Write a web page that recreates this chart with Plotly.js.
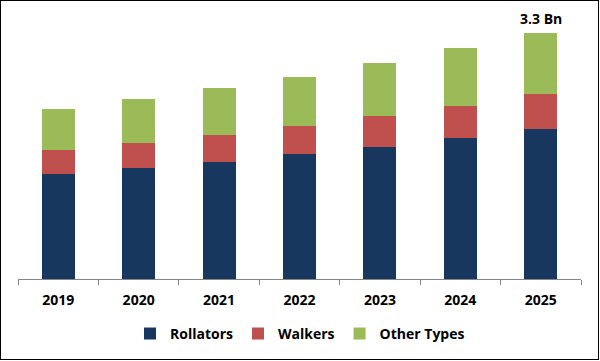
<!DOCTYPE html>
<html><head><meta charset="utf-8">
<script src="https://cdn.plot.ly/plotly-3.0.1.min.js"></script>
<style>
body{margin:0;padding:0;background:#fff;}
#wrap{position:relative;width:600px;height:361px;}
#chart{width:600px;height:361px;}
#frame{position:absolute;left:0;top:0;width:599px;height:360px;box-sizing:border-box;border:1px solid #000;pointer-events:none;}
</style>
</head><body>
<div id="wrap"><div id="chart"></div><div id="frame"></div></div>
<script>
const years = ['2019','2020','2021','2022','2023','2024','2025'];
const rollators = [1.41, 1.49, 1.57, 1.68, 1.77, 1.89, 2.01];
const walkers = [0.32, 0.34, 0.36, 0.38, 0.42, 0.44, 0.48];
const otherTypes = [0.55, 0.59, 0.63, 0.66, 0.71, 0.77, 0.81];
const totalLabel = '3.3 Bn';
const lastTotal = 3.3;

const mk = (name, y, color) => ({type:'bar', name, x: years, y, marker:{color}, hoverinfo:'skip'});
const data = [
  mk('Rollators', rollators, '#17375E'),
  mk('Walkers', walkers, '#C0504D'),
  mk('Other Types', otherTypes, '#9BBB59')
];
const layout = {
  width:600, height:361,
  margin:{l:18, r:19, t:11, b:82, autoexpand:false},
  barmode:'stack', bargap:0.59,
  paper_bgcolor:'#fff', plot_bgcolor:'#fff',
  font:{family:'Open Sans, Liberation Sans, sans-serif', color:'#000'},
  xaxis:{type:'category', range:[-0.5, years.length-0.5], autorange:false,
    showline:true, linecolor:'#868686', linewidth:1,
    ticks:'outside', tickson:'boundaries', ticklen:5, tickcolor:'#868686',
    ticklabelstandoff:8,
    tickfont:{size:14, family:'Open Sans, sans-serif', weight:'bold'}, showgrid:false, zeroline:false},
  yaxis:{range:[0,3.6], autorange:false, visible:false, showgrid:false, zeroline:false, fixedrange:true},
  showlegend:true,
  legend:{orientation:'h', x:0.5, xanchor:'center', xref:'container', y:0.075, yanchor:'middle', yref:'container',
    font:{size:14, weight:'bold'}, traceorder:'normal'},
  annotations:[{x: years.length-1, y: lastTotal, xref:'x', yref:'y', text: totalLabel,
    showarrow:false, yanchor:'bottom', yshift:3, font:{size:14, weight:'bold'}}]
};
Plotly.newPlot('chart', data, layout, {staticPlot:true, displayModeBar:false});
</script>
</body></html>
